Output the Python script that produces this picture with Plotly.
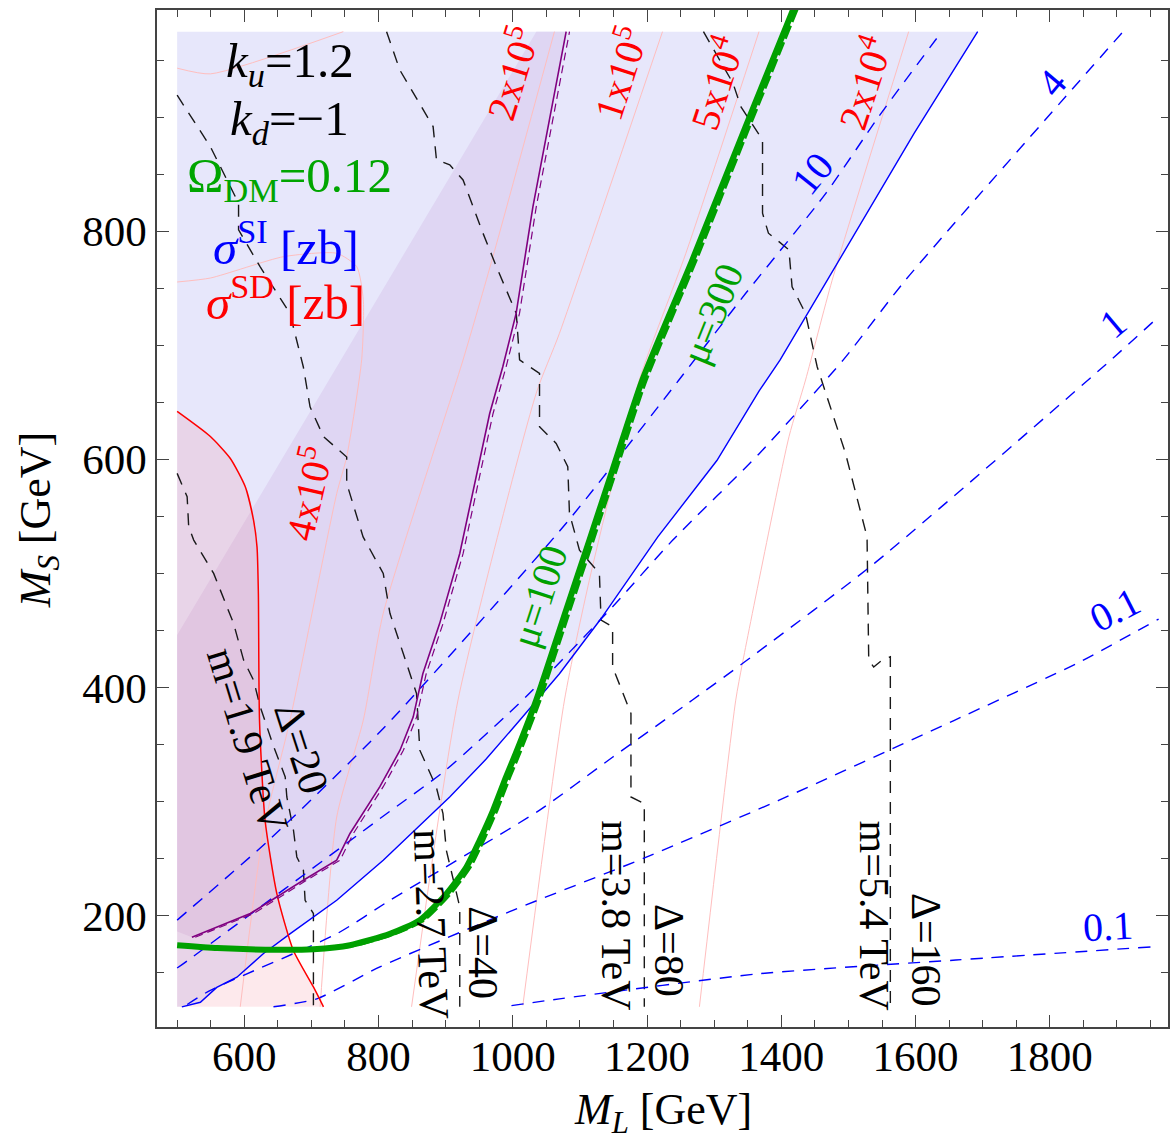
import plotly.graph_objects as go

# ---------------------------------------------------------------
# scan domain (GeV)
ML_MIN, ML_MAX = 500, 1960
MS_MIN, MS_MAX = 120, 975

# Omega_DM h^2 = 0.12 relic-density line
omega_ml = [500, 560, 648.6, 703, 757.5, 817, 861.5, 901, 931, 950.7, 970.5, 990, 1005,
            1035, 1079.5, 1114, 1148.7, 1193, 1267.6, 1347, 1418]
omega_ms = [174, 171.5, 170, 170.5, 174, 184, 196, 219, 242.6, 266, 292, 321.6, 343,
            389, 468, 529, 591, 669.6, 775, 892, 995]

# edge of the lavender (allowed) region: solid blue boundary
blue_edge_ml = [507, 534.6, 559, 589, 628.7, 668, 737.7, 807, 906, 960, 1010, 1069.5, 1131,
                1216, 1304, 1367, 1398, 1480.7, 1598, 1692.5]
blue_edge_ms = [120, 124, 137, 146, 166.7, 184, 213.4, 248.5, 304, 337, 371, 412, 460,
                532, 599, 660, 687, 769, 886, 975]

# purple exclusion band: straight diagonal edge and the purple contour
diag_ml = [500, 1035]
diag_ms = [446, 975]
purple_ml = [522, 609, 688, 737.7, 757.5, 802, 832, 851.6, 866, 891, 921, 940.7, 965.5,
             985, 1005, 1030, 1079.5]
purple_ms = [181, 201.8, 231, 248.6, 272, 313, 345, 374, 412, 456, 517.5, 573, 640,
             681, 728, 821.6, 975]
purple_floor_ms = 186

# red (sigma_SD limit) boundary
red_ml = [500, 549.5, 579, 601.5, 613.8, 619, 621, 622.7, 631, 648.6, 673, 703, 718]
red_ms = [642, 620, 601, 576, 546.7, 523, 482.5, 371, 283.6, 219, 169.6, 137.4, 120]

# sigma_SI contours [zb] (dashed blue)
si_levels = ["10", "4", "1", "0.1", "0.1"]
si_ml = [
    [500, 633.7, 807, 1079.5, 1248, 1347, 1466, 1545, 1639],
    [500, 512, 802, 901, 1020, 1149, 1238, 1367, 1492, 1584.7, 1909],
    [515, 549.5, 737.7, 817, 1040, 1149, 1267.6, 1345.6, 1539, 1883, 1962],
    [643.5, 708, 802, 1000, 1198, 1396, 1657, 1840, 1962],
    [998, 1069.5, 1367, 1660, 1950],
]
si_ms = [
    [196, 264.6, 364, 544, 670, 745.6, 833, 900.5, 975],
    [154, 159, 285, 328, 392, 471, 529, 605, 687, 757, 975],
    [122, 134.5, 184, 213.4, 292.5, 339, 389, 422.5, 509, 683, 725],
    [120, 127, 155, 204.6, 251, 301, 371, 421, 460],
    [121, 127, 149, 161, 172.5],
]
si_label_ml = [1446, 1803.6, 1894, 1897.6, 1887]
si_label_ms = [851, 930, 719, 468, 190]
si_label_angle = [-51, -50, -40, -27, -3]

# sigma_SD contours [zb] (thin pink)
sd_levels = ["", "4x10<sup>5</sup>", "2x10<sup>5</sup>", "1x10<sup>5</sup>",
             "5x10<sup>4</sup>", "2x10<sup>4</sup>"]
sd_ml = [
    [500, 549.5, 747.5],
    [500, 549.5, 658.4, 737.7, 767.5, 777.3, 774.9, 752.6, 737.7, 668, 628.7, 594],
    [1062, 970.4, 925.9, 807, 777.3, 737.7, 713],
    [1223, 1069.5, 1034.9, 918.4, 849.2],
    [1366.7, 1257.8, 1188.4, 1114, 1077, 1015],
    [1589.7, 1475.7, 1436.1, 1411.4, 1342, 1332.1, 1278],
]
sd_ms = [
    [943, 938, 975],
    [755.5, 759, 777.7, 780.7, 769, 740, 687.4, 602.3, 570, 371, 274.8, 120],
    [975, 777.7, 687.2, 465, 371.3, 286.5, 120],
    [975, 710.5, 658, 389, 120],
    [975, 780.7, 669.6, 494, 389, 121.3],
    [975, 757, 669.6, 619.8, 421, 388.9, 120],
]
sd_label_ml = [None, 693.2, 997.8, 1158.7, 1302.4, 1522.7]
sd_label_ms = [None, 570.2, 939, 939, 930, 930]
sd_label_angle = [0, -77, -73, -72, -72, -72]

# heavy-mediator mass / fine-tuning contours (dashed black)
mt_ml = [
    [500, 514.9, 517.2, 524.7, 554.4, 584.1, 599, 613.8, 623.8, 643, 661, 663.4, 673.3,
     678.3, 688.1, 690.6, 703, 703],
    [500, 549.5, 591.5, 591.5, 623.5, 668, 688, 698, 718, 752.6, 752.6, 777, 807, 817,
     836.7, 856.6, 861.5, 886, 896, 901, 921, 921],
    [812, 831.7, 881.3, 886.3, 906.1, 925.9, 955.6, 975.5, 1005.2, 1010.1, 1039.8, 1039.8,
     1064.6, 1081.9, 1084.4, 1099.3, 1129, 1131.5, 1148.7, 1148.7, 1176, 1176, 1195.9, 1195.9],
    [1284, 1328, 1339.7, 1372, 1372, 1380.8, 1411.3, 1416, 1436, 1453.4, 1495.6, 1527.7,
     1530.2, 1537.6, 1550, 1562.4, 1562.4],
]
mt_ms = [
    [587.7, 567.2, 540.9, 529.2, 500, 456.1, 424, 406.4, 383, 349.4, 321.6, 304, 274.8,
     251.4, 239.7, 213.4, 201.8, 120],
    [919.3, 874.2, 824.6, 801.2, 769, 728, 681, 646, 620, 602, 579, 532, 500, 465,
     430, 394.7, 345, 312.8, 289.5, 257.3, 207.5, 120],
    [975, 941.4, 891.8, 862.6, 858.2, 845, 798.3, 769, 728, 687.2, 675.4, 628.6,
     614, 593.5, 552.6, 520.4, 500, 459, 453.2, 418, 377.2, 304, 298.2, 120],
    [975, 929.8, 909.3, 880, 815.8, 798.3, 783.8, 751.4, 728, 681.2, 605.3, 532.1,
     424, 418, 424, 426.9, 120],
]
m_labels = ["m=1.9 TeV", "m=2.7 TeV", "m=3.8 TeV", "m=5.4 TeV"]
m_label_ml = [604.5, 879, 1153.8, 1537.6]
m_label_ms = [353.6, 193, 200.3, 200.3]
m_label_angle = [73, 88, 90, 90]
d_labels = ["\u0394=20", "\u0394=40", "\u0394=80", "\u0394=160"]
d_label_ml = [685, 955.6, 1233, 1614.5]
d_label_ms = [346.8, 167, 169.6, 169.6]
d_label_angle = [72, 90, 90, 90]

mu_labels = ["\u03bc=100", "\u03bc=300"]
mu_label_ml = [1039.8, 1297.3]
mu_label_ms = [479.5, 728]
mu_label_angle = [-72, -68]

# ---------------------------------------------------------------
SERIF = "Liberation Serif"
BLUE = "rgb(0,0,255)"
GREEN = "rgb(0,160,0)"
RED = "rgb(255,0,0)"
PURPLE = "rgb(128,0,128)"

fig = go.Figure()


def area(xs, ys, color):
    fig.add_trace(go.Scatter(x=xs, y=ys, mode="lines", fill="toself", fillcolor=color,
                             line=dict(width=0), hoverinfo="skip", showlegend=False))


def curve(xs, ys, color, width, dash="solid", smooth=False):
    line = dict(color=color, width=width, dash=dash)
    if smooth:
        line.update(shape="spline", smoothing=0.6)
    fig.add_trace(go.Scatter(x=xs, y=ys, mode="lines", line=line,
                             hoverinfo="skip", showlegend=False))


# lavender region above/left of the blue boundary
area([ML_MIN] + blue_edge_ml + [ML_MIN], [MS_MIN] + blue_edge_ms + [MS_MAX],
     "rgb(231,231,251)")

# purple band between the diagonal and the purple contour
area(diag_ml + purple_ml[::-1] + [ML_MIN],
     diag_ms + purple_ms[::-1] + [purple_floor_ms],
     "rgb(223,214,243)")

# translucent red region left of the red boundary
area(red_ml + [ML_MIN], red_ms + [MS_MIN], "rgba(240,110,125,0.15)")

# thin sigma_SD contours
for xs, ys in zip(sd_ml, sd_ms):
    curve(xs, ys, "rgb(255,190,190)", 1, smooth=True)

# dashed black mass contours
for xs, ys in zip(mt_ml, mt_ms):
    curve(xs, ys, "rgb(25,25,25)", 1.4, "12px,9px")

# sigma_SI contours
for xs, ys in zip(si_ml, si_ms):
    curve(xs, ys, BLUE, 1.4, "12px,9px", smooth=True)

# region boundaries
curve(blue_edge_ml, blue_edge_ms, BLUE, 1.4)
curve(red_ml, red_ms, RED, 1.5, smooth=True)
curve([x + 5 for x in purple_ml], purple_ms, PURPLE, 1.2, "8px,5px")
curve(purple_ml, purple_ms, PURPLE, 1.6)

# relic-density line: thick solid with a dashed companion stroke
curve([x + 5 for x in omega_ml], omega_ms, GREEN, 4, "14px,4px", smooth=True)
curve(omega_ml, omega_ms, GREEN, 6, smooth=True)

# ---------------------------------------------------------------
ann = []


def label(text, x, y, color, size=40, angle=0, xref="x", yref="y"):
    ann.append(dict(text=text, x=x, y=y, xref=xref, yref=yref, showarrow=False,
                    textangle=angle, font=dict(family=SERIF, size=size, color=color),
                    xanchor="center", yanchor="middle"))


for t, x, y, a in zip(si_levels, si_label_ml, si_label_ms, si_label_angle):
    label(t, x, y, BLUE, 40, a)
for t, x, y, a in zip(sd_levels, sd_label_ml, sd_label_ms, sd_label_angle):
    if t:
        label(t, x, y, RED, 40, a)
for t, x, y, a in zip(m_labels, m_label_ml, m_label_ms, m_label_angle):
    label(t, x, y, "black", 42, a)
for t, x, y, a in zip(d_labels, d_label_ml, d_label_ms, d_label_angle):
    label(t, x, y, "black", 42, a)
for t, x, y, a in zip(mu_labels, mu_label_ml, mu_label_ms, mu_label_angle):
    label(t, x, y, GREEN, 40, a)

# parameter box
label("<i>k</i><sub><i>u</i></sub>=1.2", 668, 947, "black", 49)
label("<i>k</i><sub><i>d</i></sub>=\u22121", 668, 896, "black", 49)
label("\u03a9<sub>DM</sub>=0.12", 668, 846, "rgb(0,165,0)", 49)
label("<i>\u03c3</i><sup>SI</sup> [zb]", 662, 789, BLUE, 49)
label("<i>\u03c3</i><sup>SD</sup> [zb]", 662, 741, RED, 49)

# axis titles
label("<i>M</i><sub><i>L</i></sub> [GeV]", 0.5, -0.084, "black", 44, 0, "paper", "paper")
label("<i>M</i><sub><i>S</i></sub> [GeV]", -0.117, 0.498, "black", 44, -90, "paper", "paper")

axis_common = dict(
    showgrid=False, zeroline=False, showline=True, linecolor="#444", linewidth=1.5,
    mirror="allticks", ticks="inside", ticklen=12, tickwidth=1.2, tickcolor="#444",
    tickfont=dict(family=SERIF, size=43, color="black"),
    minor=dict(ticks="inside", ticklen=7, tickwidth=1, tickcolor="#444", dtick=50),
)

fig.update_layout(
    width=1173, height=1141,
    margin=dict(l=157, r=3, t=10, b=114),
    paper_bgcolor="white", plot_bgcolor="white",
    xaxis=dict(range=[470, 1976], tick0=0, dtick=200, ticklabelstandoff=-9, **axis_common),
    yaxis=dict(range=[102.3, 994], tick0=0, dtick=200, **axis_common),
    annotations=ann,
    showlegend=False,
)

fig.write_html("out.html")
